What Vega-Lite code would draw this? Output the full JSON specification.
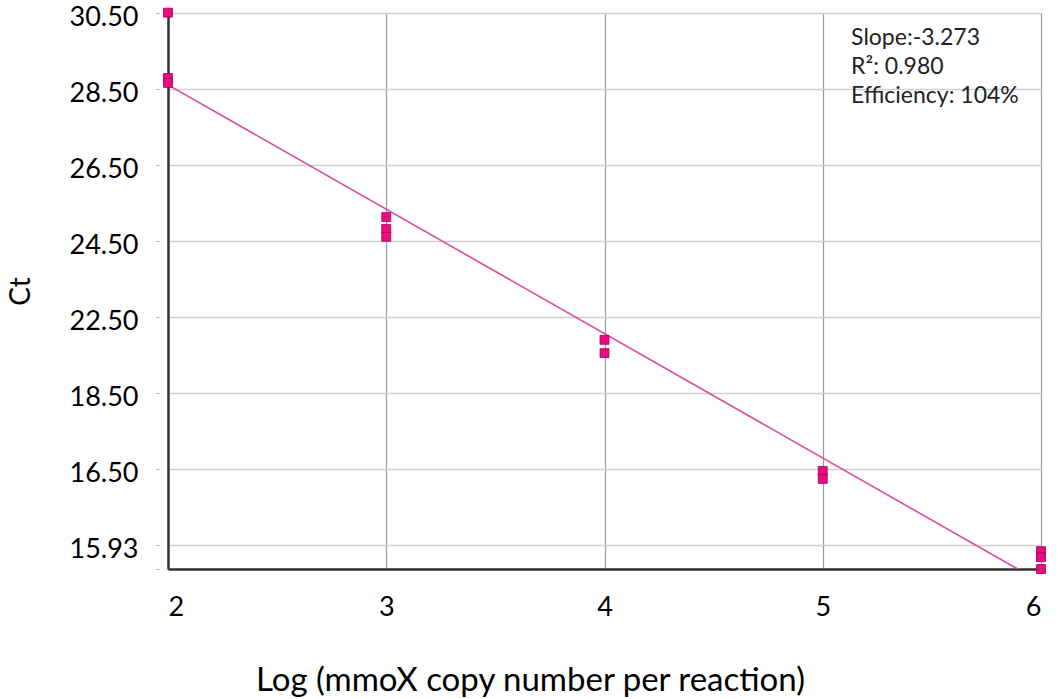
{
  "$schema": "https://vega.github.io/schema/vega-lite/v6.json",
  "width": 873,
  "height": 556,
  "autosize": "none",
  "padding": {"left": 168, "top": 13, "right": 19, "bottom": 130},
  "background": "white",
  "config": {
    "font": "Lato",
    "view": {"stroke": null},
    "axis": {"labelFont": "Lato", "titleFont": "Lato", "labelColor": "#000", "titleColor": "#000", "titleFontWeight": "normal"}
  },
  "datasets": {
    "ct": [
      {"logCopies": 2, "ct": 30.51},
      {"logCopies": 2, "ct": 28.79},
      {"logCopies": 2, "ct": 28.66},
      {"logCopies": 3, "ct": 25.13},
      {"logCopies": 3, "ct": 24.82},
      {"logCopies": 3, "ct": 24.61},
      {"logCopies": 4, "ct": 21.9},
      {"logCopies": 4, "ct": 21.55},
      {"logCopies": 5, "ct": 18.45},
      {"logCopies": 5, "ct": 18.24},
      {"logCopies": 6, "ct": 16.34},
      {"logCopies": 6, "ct": 16.18},
      {"logCopies": 6, "ct": 15.87}
    ],
    "fit": [
      {"logCopies": 2, "ct": 28.61},
      {"logCopies": 6, "ct": 15.518}
    ],
    "stats": [
      {"lines": "fit"}
    ]
  },
  "layer": [
    {
      "data": {"name": "ct"},
      "mark": {"type": "point", "opacity": 0},
      "encoding": {
        "x": {
          "field": "logCopies", "type": "quantitative",
          "scale": {"domain": [2, 6], "nice": false, "zero": false},
          "axis": {
            "values": [2, 3, 4, 5, 6],
            "format": "d",
            "title": "Log (mmoX copy number per reaction)",
            "titleFontSize": 33, "titleX": 362, "titleY": 111, "titleBaseline": "middle",
            "labelFontSize": 27, "labelPadding": 25,
            "ticks": false,
            "domainColor": "#333", "domainWidth": 2.5,
            "gridColor": "#9a9a9a", "gridWidth": 1.2
          }
        },
        "y": {
          "field": "ct", "type": "quantitative",
          "scale": {"domain": [15.87, 30.5], "nice": false, "zero": false},
          "axis": {
            "values": [30.5, 28.5, 26.5, 24.5, 22.5, 20.5, 18.5, 16.5, 15.87],
            "labelExpr": "datum.value == 20.5 ? '18.50' : datum.value == 18.5 ? '16.50' : datum.value == 16.5 ? '15.93' : datum.value < 16 ? '' : format(datum.value, '.2f')",
            "title": "Ct", "titleFontSize": 28, "titlePadding": 33,
            "labelFontSize": 27, "labelPadding": 18, "labelOffset": 4,
            "tickSize": 12, "tickColor": "#aaa", "tickDash": [0, 9, 3, 50],
            "domainColor": "#333", "domainWidth": 2.5,
            "gridColor": "#cfcfcf", "gridWidth": 1.5
          }
        }
      }
    },
    {
      "data": {"name": "fit"},
      "mark": {"type": "line", "color": "#dc4c9c", "strokeWidth": 1.6, "clip": true},
      "encoding": {
        "x": {"field": "logCopies", "type": "quantitative"},
        "y": {"field": "ct", "type": "quantitative"}
      }
    },
    {
      "data": {"name": "ct"},
      "mark": {"type": "square", "size": 80, "filled": true, "fill": "#ec0a82", "stroke": "#a0004f", "strokeWidth": 0.8, "opacity": 1},
      "encoding": {
        "x": {"field": "logCopies", "type": "quantitative"},
        "y": {"field": "ct", "type": "quantitative"}
      }
    },
    {
      "data": {"name": "stats"},
      "mark": {"type": "text", "align": "left", "baseline": "top", "fontSize": 23, "lineHeight": 29, "color": "#222", "font": "Lato"},
      "encoding": {
        "x": {"datum": 5.13},
        "y": {"datum": 30.13},
        "text": {"value": ["Slope:-3.273", "R²: 0.980", "Efficiency: 104%"]}
      }
    }
  ]
}
